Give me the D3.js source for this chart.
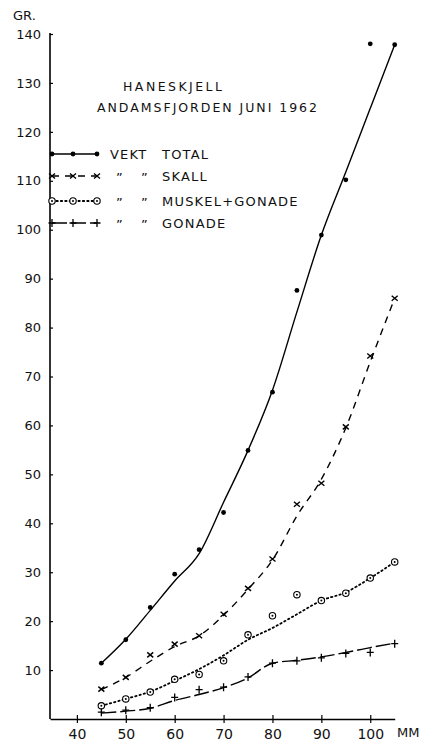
<!DOCTYPE html>
<html>
<head>
<meta charset="utf-8">
<script src="https://cdn.jsdelivr.net/npm/d3@7"></script>
<style>
  body { margin: 0; background: #fff; }
  svg { display: block; font-family: "DejaVu Sans", sans-serif; }
</style>
</head>
<body>
<div class="chart"></div>
<script>
// length classes (mm) and measured weights (gr)
const lengths = [45, 50, 55, 60, 65, 70, 75, 80, 85, 90, 95, 100, 105];
const xTicks = [40, 50, 60, 70, 80, 90, 100];
const yTicks = [10, 20, 30, 40, 50, 60, 70, 80, 90, 100, 110, 120, 130, 140];

// plotted points
const vektTotal = [11.4, 16.2, 22.8, 29.6, 34.6, 42.2, 54.9, 66.8, 87.6, 98.9, 110.2, 138.0, 137.8];
const skall = [6.1, 8.5, 13.1, 15.3, 17.0, 21.4, 26.7, 32.7, 43.9, 48.2, 59.7, 74.2, 86.0];
const muskelGonade = [2.7, 4.1, 5.5, 8.1, 9.1, 11.9, 17.2, 21.1, 25.4, 24.2, 25.7, 28.8, 32.1];
const gonade = [1.4, 1.8, 2.3, 4.4, 6.0, 6.5, 8.6, 11.4, 11.9, 12.5, 13.4, 13.6, 15.4];

// hand drawn fitted curves
const vektTotalFit = [11.4, 16.3, 22.2, 28.2, 33.8, 44.3, 54.9, 67.2, 83.2, 98.9, 111.8, 124.8, 137.8];
const skallFit = [6, 8.5, 11.8, 14.8, 17, 21.2, 26.5, 32.5, 41.5, 49, 59.5, 73, 86];
const muskelGonadeFit = [2.7, 4.1, 5.6, 7.8, 10.2, 13.0, 16.2, 18.6, 21.4, 24.2, 25.9, 28.8, 32.1];
const gonadeFit = [1.2, 1.6, 2.2, 3.8, 5.0, 6.4, 8.4, 11.4, 12.0, 12.7, 13.6, 14.6, 15.5];

const legendNames = ['VEKT TOTAL', 'SKALL', 'MUSKEL+GONADE', 'GONADE'];

const width = 422, height = 741;
const svg = d3.select('.chart').append('svg')
  .attr('width', width).attr('height', height);
svg.append('rect').attr('width', width).attr('height', height).attr('fill', '#fff');

const x = d3.scaleLinear().domain([34.5, 105]).range([50, 394.7]);
const y = d3.scaleLinear().domain([0, 140]).range([719, 34]);

// axes
const xAxis = svg.append('g')
  .attr('transform', 'translate(0,719)')
  .call(d3.axisBottom(x).tickValues(xTicks).tickSize(4).tickSizeOuter(0).tickPadding(6));
xAxis.select('.domain').attr('stroke-width', 1.6);
xAxis.selectAll('.tick line').attr('y1', -4).attr('stroke-width', 1.2);
xAxis.selectAll('.tick text').attr('font-size', 14).attr('fill', '#111')
  .attr('font-family', '"DejaVu Sans", sans-serif');

const yAxis = svg.append('g')
  .attr('transform', 'translate(50,0)')
  .call(d3.axisLeft(y).tickValues(yTicks).tickSize(-3).tickSizeOuter(0).tickPadding(9));
yAxis.select('.domain').attr('d', `M0,${y(0)}V${y(140) - 1}`).attr('stroke-width', 1.6);
yAxis.selectAll('.tick line').attr('stroke-width', 1.2);
yAxis.selectAll('.tick text').attr('font-size', 13).attr('fill', '#111')
  .attr('font-family', '"DejaVu Sans", sans-serif');

svg.append('text').text('GR.').attr('x', 13).attr('y', 20).attr('font-size', 13).attr('fill', '#111');
svg.append('text').text('MM').attr('x', 397).attr('y', 737).attr('font-size', 13).attr('fill', '#111');

// titles
svg.append('text').text('HANESKJELL').attr('x', 123).attr('y', 91)
  .attr('font-size', 12.5).attr('textLength', 99).attr('lengthAdjust', 'spacing').attr('fill', '#111');
svg.append('text').text('ANDAMSFJORDEN JUNI 1962').attr('x', 97).attr('y', 112)
  .attr('font-size', 12.5).attr('textLength', 220).attr('lengthAdjust', 'spacing').attr('fill', '#111');

// series styles
const series = [
  { pts: vektTotal, fit: vektTotalFit, dash: null, marker: 'dot' },
  { pts: skall, fit: skallFit, dash: '7,6', marker: 'x' },
  { pts: muskelGonade, fit: muskelGonadeFit, dash: '1.4,3', marker: 'ring' },
  { pts: gonade, fit: gonadeFit, dash: '15,4', marker: 'plus' }
];

function drawMarker(g, type, cx, cy) {
  if (type === 'dot') {
    g.append('circle').attr('cx', cx).attr('cy', cy).attr('r', 2.4).attr('fill', '#000');
  } else if (type === 'x') {
    g.append('path').attr('d', `M${cx - 3},${cy - 2.5}L${cx + 3},${cy + 2.5}M${cx - 3},${cy + 2.5}L${cx + 3},${cy - 2.5}`)
      .attr('stroke', '#000').attr('stroke-width', 1.4);
  } else if (type === 'ring') {
    g.append('circle').attr('cx', cx).attr('cy', cy).attr('r', 3.2).attr('fill', '#fff')
      .attr('stroke', '#000').attr('stroke-width', 1.1);
    g.append('circle').attr('cx', cx).attr('cy', cy).attr('r', 1).attr('fill', '#000');
  } else {
    g.append('path').attr('d', `M${cx - 3.5},${cy}L${cx + 3.5},${cy}M${cx},${cy - 4}L${cx},${cy + 4}`)
      .attr('stroke', '#000').attr('stroke-width', 1.3);
  }
}

const line = d3.line()
  .x((d, i) => x(lengths[i]))
  .y(d => y(d))
  .curve(d3.curveMonotoneX);

series.forEach(s => {
  svg.append('path')
    .datum(s.fit)
    .attr('d', line)
    .attr('fill', 'none')
    .attr('stroke', '#000')
    .attr('stroke-width', s.marker === 'ring' ? 1.8 : 1.4)
    .attr('stroke-linecap', s.marker === 'ring' ? 'round' : 'butt')
    .attr('stroke-dasharray', s.dash);
  const g = svg.append('g');
  s.pts.forEach((v, i) => drawMarker(g, s.marker, x(lengths[i]), y(v)));
});

// legend
const legendRows = [154, 176, 201, 223];
series.forEach((s, i) => {
  const ly = legendRows[i];
  svg.append('line').attr('x1', 52).attr('x2', 97).attr('y1', ly).attr('y2', ly)
    .attr('stroke', '#000')
    .attr('stroke-width', s.marker === 'ring' ? 1.8 : 1.3)
    .attr('stroke-linecap', s.marker === 'ring' ? 'round' : 'butt')
    .attr('stroke-dasharray', s.dash);
  const g = svg.append('g');
  [52, 73, 97].forEach(px => drawMarker(g, s.marker, px, ly));
  const words = legendNames[i].split(' ');
  if (i === 0) {
    svg.append('text').text(words[0]).attr('x', 110).attr('y', ly + 5)
      .attr('font-size', 13).attr('letter-spacing', 1.2).attr('fill', '#111');
  } else {
    // ditto marks
    [116, 141].forEach(px => svg.append('text').text('\u201D').attr('x', px).attr('y', ly + 6)
      .attr('font-size', 13).attr('fill', '#111'));
  }
  svg.append('text').text(words[words.length - 1]).attr('x', 162).attr('y', ly + 5)
    .attr('font-size', 13).attr('letter-spacing', 1.2).attr('fill', '#111');
});
</script>
</body>
</html>
